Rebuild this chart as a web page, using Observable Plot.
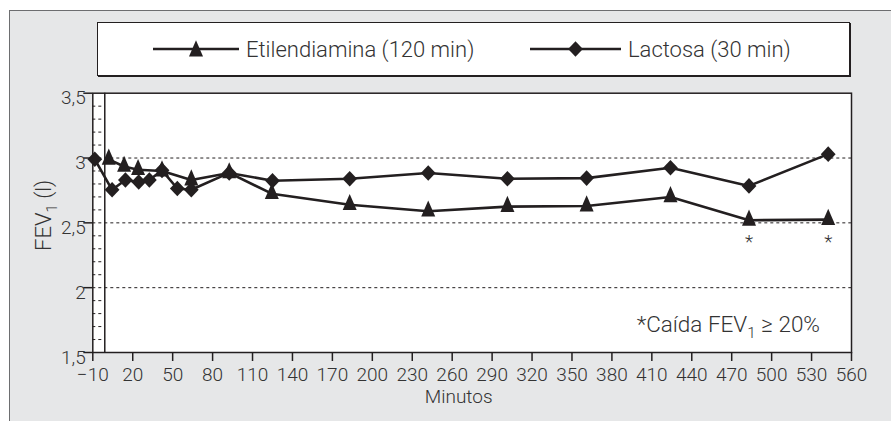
<!DOCTYPE html>
<html>
<head>
<meta charset="utf-8">
<script src="https://cdn.jsdelivr.net/npm/d3@7"></script>
<script src="https://cdn.jsdelivr.net/npm/@observablehq/plot@0.6"></script>
<style>
  html, body { margin: 0; padding: 0; background: #ffffff; overflow: hidden; }
  #wrap { position: relative; width: 891px; height: 421px; overflow: hidden;
          font-family: Roboto, "Liberation Sans", Arial, sans-serif; font-weight: 300; color: #333; }
  #panel { position: absolute; left: 9px; top: 10px; width: 920px; height: 440px;
           background: #e6e7e8; border-left: 1.5px solid #6d6e70; border-top: 1.5px solid #6d6e70; }
  #legend { position: absolute; left: 97px; top: 22px; width: 751px; height: 52px;
            background: #fff; border: 1px solid #231f20; box-shadow: 1px 1px 0 #231f20; }
  .item { position: absolute; top: 0; height: 52px; display: flex; align-items: center; }
  .item span { font-size: 22px; color: #333; margin-left: 7px; white-space: nowrap; font-weight: 300; }
  #chart { position: absolute; left: 0; top: 0; }
  #chart svg { background: transparent !important; overflow: visible; }
  #chart svg text { font-weight: 300; }
</style>
</head>
<body>
<div id="wrap">
  <div id="panel"></div>
  <div id="legend"></div>
  <div id="chart"></div>
</div>
<script>
// ---- data ----
const seriesNames = ["Etilendiamina (120 min)", "Lactosa (30 min)"];
const minutesEtil = [2, 13.5, 24, 42, 64, 92.5, 124.5, 183, 242, 301.5, 361, 424, 483, 542.5];
const fevEtil     = [2.99, 2.935, 2.91, 2.90, 2.83, 2.885, 2.725, 2.64, 2.59, 2.625, 2.63, 2.70, 2.52, 2.525];
const minutesLact = [-8.5, 4.5, 14.5, 24.5, 32.5, 42, 53.5, 64, 92.5, 125, 183, 242, 301.5, 361, 424, 483, 542.5];
const fevLact     = [2.99, 2.755, 2.83, 2.815, 2.83, 2.905, 2.765, 2.755, 2.885, 2.825, 2.84, 2.885, 2.84, 2.845, 2.925, 2.785, 3.03];
const starMinutes = [483, 542.5];   // *Caída FEV1 ≥ 20%
const xTicks = [-10, 20, 50, 80, 110, 140, 170, 200, 230, 260, 290, 320, 350, 380, 410, 440, 470, 500, 530, 560];
const yTicks = [1.5, 2, 2.5, 3, 3.5];
const yTickLabels = ["1,5", "2", "2,5", "3", "3,5"];
const gridLines = [2, 2.5, 3];
const minorTicks = [1.6, 1.7, 1.8, 1.9, 2.1, 2.2, 2.3, 2.4, 2.6, 2.7, 2.8, 2.9, 3.1, 3.2, 3.3, 3.4];
const xDomain = [-10, 560];
const yDomain = [1.5, 3.5];
const innerAxisX = -1;
const xLabel = "Minutos";
const noteText = ["*Caída FEV", "1", " ≥ 20%"];
const yLabelText = ["FEV", "1", " (l)"];

const etil = minutesEtil.map((m, i) => ({m, v: fevEtil[i]}));
const lact = minutesLact.map((m, i) => ({m, v: fevLact[i]}));

const INK = "#231f20";
const TXT = "#333333";
const FONT = 'Roboto, "Liberation Sans", Arial, sans-serif';

const triangle = { draw(ctx) { ctx.moveTo(0, -10.8); ctx.lineTo(7, 5.4); ctx.lineTo(-7, 5.4); ctx.closePath(); } };
const diamond  = { draw(ctx) { ctx.moveTo(0, -7.8); ctx.lineTo(7.4, 0); ctx.lineTo(0, 7.8); ctx.lineTo(-7.4, 0); ctx.closePath(); } };

const chart = Plot.plot({
  width: 891, height: 421,
  marginLeft: 92.3, marginRight: 40, marginTop: 92.7, marginBottom: 69,
  x: {domain: xDomain},
  y: {domain: yDomain},
  style: {background: "transparent", fontFamily: FONT, color: TXT, overflow: "visible"},
  marks: [
    Plot.frame({fill: "white"}),
    Plot.ruleY(gridLines, {stroke: INK, strokeWidth: 1, strokeDasharray: "3,3"}),
    Plot.ruleY(minorTicks, {x1: xDomain[0], x2: innerAxisX, stroke: INK, strokeWidth: 1, strokeDasharray: "3,3"}),
    Plot.ruleX([innerAxisX], {stroke: INK, strokeWidth: 1.5}),
    Plot.line(etil, {x: "m", y: "v", stroke: INK, strokeWidth: 2.6}),
    Plot.line(lact, {x: "m", y: "v", stroke: INK, strokeWidth: 2.6}),
    Plot.dot(etil, {x: "m", y: "v", symbol: triangle, r: 6, fill: INK, stroke: null}),
    Plot.dot(lact, {x: "m", y: "v", symbol: diamond, r: 6, fill: INK, stroke: null}),
    Plot.text(etil.filter(d => starMinutes.includes(d.m)), {x: "m", y: "v", text: () => "*", dy: 22, fontSize: 19, fill: TXT}),
    Plot.frame({stroke: INK, strokeWidth: 1.5}),
    Plot.axisX(xTicks, {tickSize: 9, tickPadding: 6, fontSize: 19, label: null, stroke: INK, strokeWidth: 1.5, fill: TXT,
      tickFormat: d => d < 0 ? "\u2212" + (-d) : String(d)}),
    Plot.axisY(yTicks, {tickSize: 9, tickFormat: () => "", label: null, stroke: INK, strokeWidth: 1.5}),
    Plot.text(yTicks, {frameAnchor: "left", y: d => d, text: (d, i) => yTickLabels[i], textAnchor: "end", dx: -7, dy: 5, fontSize: 19, fill: TXT}),
    Plot.text([xLabel], {frameAnchor: "bottom", text: d => d, lineAnchor: "middle", dx: -13.5, dy: 44, fontSize: 19, fill: TXT})
  ]
});
document.getElementById("chart").appendChild(chart);

// subscripted texts, placed from the scales' ranges
const sx = chart.scale("x"), sy = chart.scale("y");
const svg = d3.select(chart.tagName.toLowerCase() === "svg" ? chart : chart.querySelector("svg"));
const xr = sx.range, yr = sy.range;   // yr = [bottom, top]
function subText(sel, parts, size) {
  sel.append("tspan").text(parts[0]);
  sel.append("tspan").attr("font-size", size * 0.68).attr("dy", size * 0.28).text(parts[1]);
  sel.append("tspan").attr("dy", -size * 0.28).text(parts[2]);
}
const note = svg.append("text")
  .attr("x", xr[1] - 31).attr("y", yr[0] - 20)
  .attr("text-anchor", "end").attr("font-size", 22.5).attr("fill", TXT).attr("font-weight", 300);
subText(note, noteText, 22.5);
const ylab = svg.append("text")
  .attr("transform", `translate(${xr[0] - 41.5},${(yr[0] + yr[1]) / 2 - 7})rotate(-90)`)
  .attr("text-anchor", "middle").attr("font-size", 22).attr("fill", TXT).attr("font-weight", 300);
subText(ylab, yLabelText, 22);

// legend (HTML, above the plot area)
const legend = d3.select("#legend");
const swatches = [triangle, diamond];
const itemLeft = [55, 432];
const lineLen = [86, 91];
seriesNames.forEach((name, i) => {
  const it = legend.append("div").attr("class", "item").style("left", itemLeft[i] + "px");
  const s = it.append("svg").attr("width", lineLen[i]).attr("height", 24);
  s.append("line").attr("x1", 0).attr("x2", lineLen[i]).attr("y1", 12).attr("y2", 12)
    .attr("stroke", INK).attr("stroke-width", 2.6);
  const p = d3.path(); swatches[i].draw(p);
  s.append("path").attr("d", p.toString()).attr("fill", INK)
    .attr("transform", `translate(${lineLen[i] / 2},${i === 0 ? 14 : 12})`);
  it.append("span").text(name);
});
</script>
</body>
</html>
